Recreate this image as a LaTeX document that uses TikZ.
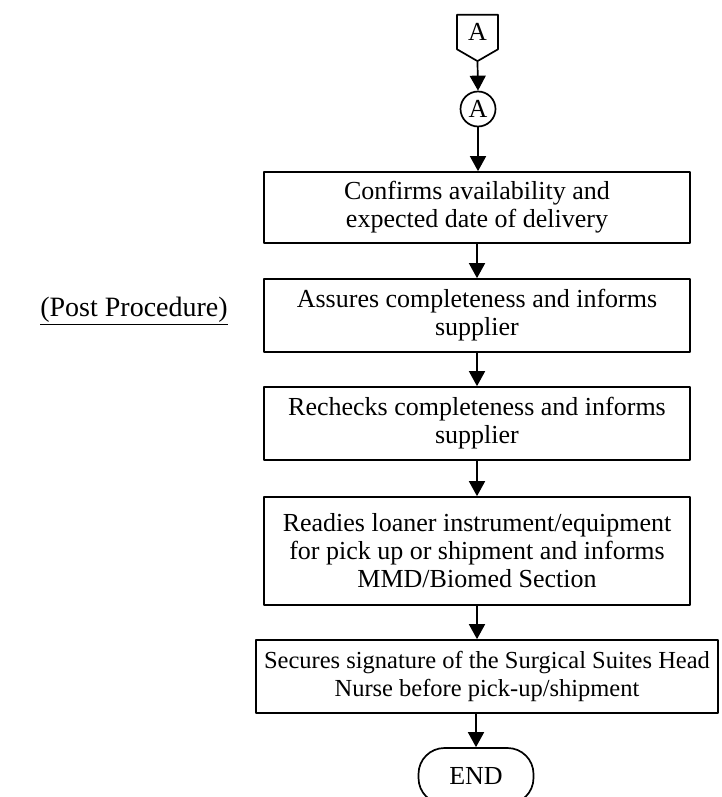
\documentclass[tikz,border=0pt]{standalone}
\usepackage{fontspec}
\setmainfont{Liberation Serif}
\usetikzlibrary{arrows.meta,shapes.symbols}
\begin{document}
\begin{tikzpicture}[x=1pt, y=-1pt, line join=round, >={Triangle[length=15pt,width=16pt]},
	font=\fontsize{26}{28}\selectfont,
	stepbox/.style={draw, line width=1.7pt, align=center, inner sep=0pt},
	flow/.style={->, line width=1.7pt}]
	\useasboundingbox (0,0) rectangle (721,797);
	% connectors A
	\node[draw, line width=1.7pt, signal, signal to=south, signal pointer angle=120,
		minimum width=41pt, minimum height=40pt, inner sep=0pt] (offA) at (477.5,32) {A};
	\node[draw, circle, line width=1.7pt, minimum size=35pt, inner sep=0pt] (conA) at (478,109) {A};
	% steps
	\node[stepbox, minimum width=426pt, minimum height=71pt] (confirm) at (477,207.5)
		{Confirms availability and\\expected date of delivery};
	\node[stepbox, minimum width=426pt, minimum height=73pt] (assure) at (477,315.5)
		{Assures completeness and informs\\supplier};
	\node[stepbox, minimum width=426pt, minimum height=73pt] (recheck) at (477,423.5)
		{Rechecks completeness and informs\\supplier};
	\node[stepbox, minimum width=426pt, minimum height=108pt] (ready) at (477,551)
		{Readies loaner instrument/equipment\\for pick up or shipment and informs\\MMD/Biomed Section};
	\node[stepbox, minimum width=462pt, minimum height=73pt, font=\fontsize{24.5}{28}\selectfont] (secure) at (487,676.5)
		{Secures signature of the Surgical Suites Head\\Nurse before pick-up/shipment};
	\node[stepbox, rounded corners=26pt, minimum width=115pt, minimum height=56pt] (finish) at (476,776) {END};
	\node[font=\fontsize{28}{30}\selectfont] (post) at (134,311) {\underline{(Post Procedure)}};
	% arrows
	\draw[flow] (offA.south) -- (conA.north);
	\draw[flow] (conA) -- (confirm.north -| conA);
	\draw[flow] (confirm) -- (assure);
	\draw[flow] (assure) -- (recheck);
	\draw[flow] (recheck) -- (ready);
	\draw[flow] (ready.south) -- (secure.north -| ready.south);
	\draw[flow] (secure.south -| finish) -- (finish);
\end{tikzpicture}
\end{document}
